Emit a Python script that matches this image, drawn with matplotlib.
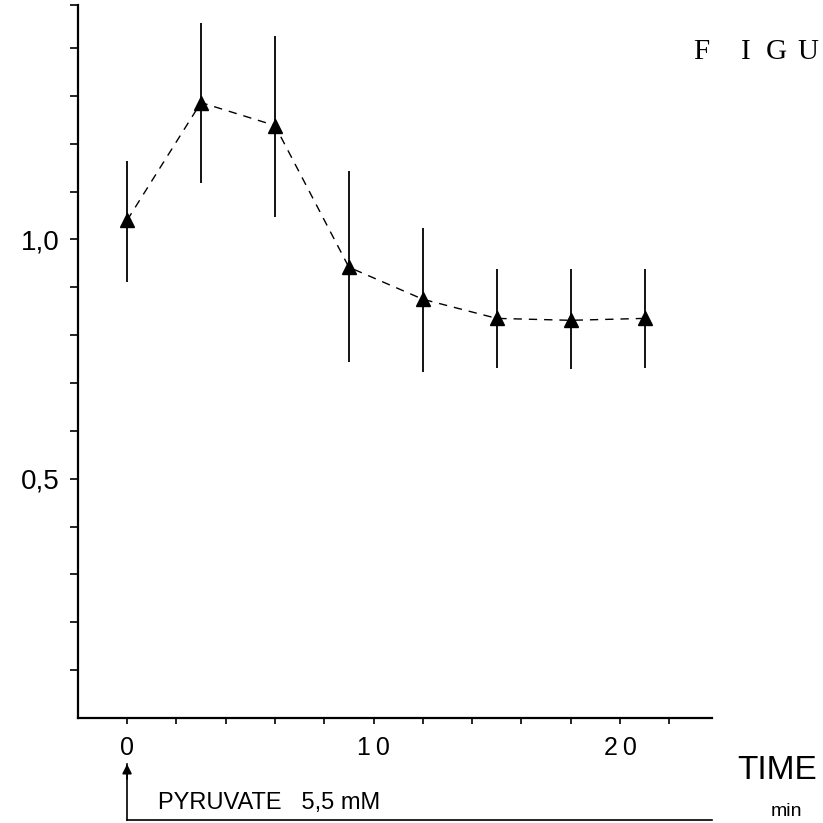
import numpy as np
import matplotlib
matplotlib.use('Agg')
import matplotlib.pyplot as plt
from matplotlib import transforms
from matplotlib.lines import Line2D

# time (min) and response with error bar ends
time_min = [0, 3, 6, 9, 12, 15, 18, 21]
values = [1.04, 1.286, 1.238, 0.942, 0.875, 0.835, 0.831, 0.835]
err_top = [1.163, 1.453, 1.426, 1.142, 1.023, 0.939, 0.939, 0.939]
err_bottom = [0.910, 1.117, 1.046, 0.743, 0.722, 0.731, 0.729, 0.731]

x_ticks = list(range(0, 24, 2))
x_labels = {0: '0', 10: '1\u20090', 20: '2\u20090'}
y_ticks = [0.1 * i for i in range(1, 15)] + [1.49]
y_labels = {5: '0,5', 10: '1,0'}

plt.rcParams['font.family'] = ['Liberation Sans', 'DejaVu Sans']

fig = plt.figure(figsize=(8.23, 8.23), dpi=100)
ax = fig.add_axes([0.0948, 0.1276, 0.865 - 0.0948, 0.994 - 0.1276])

lower = np.array(values) - np.array(err_bottom)
upper = np.array(err_top) - np.array(values)
ax.errorbar(time_min, values, yerr=[lower, upper], fmt='none', ecolor='black',
            elinewidth=1.3, capsize=0)
ax.plot(time_min, values, color='black', lw=1.0, dashes=(6, 5))
ax.plot(time_min, values, ls='none', marker='^', ms=10, color='black')

ax.set_xlim(-1.99, 23.73)
ax.set_ylim(0, 1.49)

for s in ['top', 'right']:
    ax.spines[s].set_visible(False)
for s in ['left', 'bottom']:
    ax.spines[s].set_linewidth(1.6)

ax.set_xticks(x_ticks)
ax.set_xticklabels([x_labels.get(t, '') for t in x_ticks], fontsize=18)
ax.set_yticks(y_ticks)
ax.set_yticklabels([y_labels.get(i + 1, '') for i in range(len(y_ticks))], fontsize=20)
ax.tick_params(axis='x', direction='out', length=4, width=1.2, pad=9)
ax.tick_params(axis='y', direction='out', length=6, width=1.2, pad=7)

# TIME / min label
fig.text(0.944, 0.064, 'TIME', fontsize=24, ha='center', va='center')
fig.text(0.955, 0.014, 'min', fontsize=14, ha='center', va='center')

# pyruvate addition arrow
tr = transforms.blended_transform_factory(ax.transData, fig.transFigure)
fig.add_artist(Line2D([0, 0], [0.004, 0.072], transform=tr, color='black', lw=1.2))
fig.add_artist(Line2D([0, 23.73], [0.004, 0.004], transform=tr, color='black', lw=1.2))
ax.annotate('', xy=(0, 0.075), xycoords=tr, xytext=(0, 0.05), textcoords=tr,
            arrowprops=dict(arrowstyle='-|>', color='black', lw=1.2, mutation_scale=14))
ax.text(1.25, 0.024, 'PYRUVATE   5,5 mM', transform=tr, fontsize=17, va='center')

# widely spaced heading, cut at the page edge
for letter, xpos in zip('FIGU', [0.852, 0.906, 0.943, 0.982]):
    fig.text(xpos, 0.937, letter, fontsize=21, ha='center', va='center',
             family=['Liberation Serif', 'DejaVu Serif'])

fig.savefig('out.png', dpi=100)
